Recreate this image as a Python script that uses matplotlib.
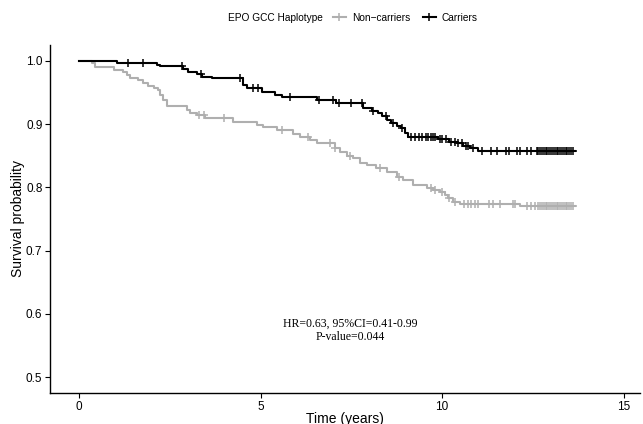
import numpy as np
import matplotlib
matplotlib.use("Agg")
import matplotlib.pyplot as plt
from matplotlib.lines import Line2D
from matplotlib.offsetbox import HPacker

# ---- data ----
carr_t = [0.0, 1.05, 2.15, 2.23, 2.87, 3.0, 3.25, 3.39, 3.65, 4.52, 4.62, 5.03, 5.4, 5.58,
          6.54, 7.09, 7.82, 8.06, 8.23, 8.33, 8.47, 8.6, 8.75, 8.88, 8.97, 9.06, 9.89,
          10.2, 10.4, 10.58, 10.76, 11.0]
carr_s = [1.0, 0.996, 0.994, 0.991, 0.987, 0.983, 0.979, 0.975, 0.972, 0.962, 0.957, 0.950, 0.946, 0.943,
          0.938, 0.933, 0.925, 0.920, 0.918, 0.912, 0.907, 0.901, 0.897, 0.893, 0.886, 0.879, 0.876,
          0.872, 0.870, 0.866, 0.862, 0.858]
carr_end = 13.65
carr_cens = [1.35, 1.76, 2.83, 3.35, 4.43, 4.8, 4.93, 5.8, 6.6, 7.0, 7.15, 7.5, 7.8, 8.1, 8.45,
             8.65, 8.9, 9.15, 9.25, 9.35, 9.45, 9.55, 9.6, 9.7, 9.75, 9.8, 9.95, 10.0, 10.1,
             10.25, 10.35, 10.45, 10.55, 10.65, 10.7, 10.85, 11.1, 11.35, 11.5, 11.75, 11.85,
             12.05, 12.15, 12.35, 12.45, 12.6, 12.65, 12.7, 12.75, 12.8, 12.85, 12.9, 12.95,
             13.0, 13.05, 13.1, 13.15, 13.2, 13.25, 13.3, 13.35, 13.4, 13.45, 13.5, 13.55, 13.6]

non_t = [0.0, 0.35, 0.44, 0.95, 1.22, 1.31, 1.4, 1.63, 1.77, 1.9, 2.05, 2.18, 2.23, 2.32, 2.41,
         2.96, 3.06, 3.24, 3.47, 4.25, 4.89, 5.07, 5.44, 5.9, 6.08, 6.36, 6.54, 7.05, 7.18,
         7.37, 7.55, 7.73, 7.92, 8.19, 8.47, 8.75, 8.93, 9.2, 9.57, 9.75, 9.94, 10.07, 10.17,
         10.3, 10.49, 12.14]
non_s = [1.0, 0.996, 0.990, 0.986, 0.983, 0.978, 0.973, 0.969, 0.965, 0.960, 0.957, 0.954, 0.946, 0.938, 0.928,
         0.922, 0.918, 0.915, 0.910, 0.904, 0.899, 0.895, 0.891, 0.884, 0.879, 0.875, 0.870, 0.862, 0.856,
         0.850, 0.846, 0.839, 0.835, 0.830, 0.825, 0.817, 0.812, 0.804, 0.799, 0.796, 0.793, 0.788, 0.783,
         0.777, 0.774, 0.770]
non_end = 13.65
non_cens = [3.3, 3.45, 4.0, 5.6, 6.3, 6.9, 7.05, 7.45, 8.3, 8.8, 9.7, 9.8, 10.0, 10.2, 10.35,
            10.6, 10.7, 10.8, 10.9, 11.0, 11.3, 11.4, 11.6, 11.95, 12.0, 12.35, 12.45, 12.55,
            12.65, 12.7, 12.75, 12.8, 12.85, 12.9, 12.95, 13.0, 13.05, 13.1, 13.15, 13.2, 13.25,
            13.3, 13.35, 13.4, 13.45, 13.5, 13.55, 13.6]

legend_title = "EPO GCC Haplotype"
group_labels = ["Non\u2212carriers", "Carriers"]
annot = "HR=0.63, 95%CI=0.41-0.99\nP-value=0.044"

# ---- plot ----
plt.rcParams['font.family'] = ['Liberation Sans', 'DejaVu Sans']
fig = plt.figure(figsize=(6.43, 4.24), dpi=100)
ax = fig.add_axes([0.0778, 0.073, 0.917, 0.821])

gray = '#AFAFAF'
black = '#000000'

def step_value(ts, ss, x):
    idx = np.searchsorted(ts, x, side='right') - 1
    return np.asarray(ss)[idx]

for ts, ss, end, cens, col in [(non_t, non_s, non_end, non_cens, gray),
                               (carr_t, carr_s, carr_end, carr_cens, black)]:
    xs = list(ts) + [end]
    ys = list(ss) + [ss[-1]]
    ax.step(xs, ys, where='post', color=col, lw=1.5, zorder=2)
    cy = step_value(ts, ss, np.array(cens))
    ax.plot(cens, cy, linestyle='none', marker='+', markersize=5.5, mew=1.1, color=col, zorder=3)

ax.set_xlim(-0.8, 15.44)
ax.set_ylim(0.475, 1.025)
ax.set_xticks([0, 5, 10, 15])
ax.set_yticks([0.5, 0.6, 0.7, 0.8, 0.9, 1.0])
ax.set_yticklabels(['0.5', '0.6', '0.7', '0.8', '0.9', '1.0'])
for s in ['top', 'right']:
    ax.spines[s].set_visible(False)
for s in ['left', 'bottom']:
    ax.spines[s].set_linewidth(1.0)
ax.tick_params(axis='both', length=3.5, width=0.8, labelsize=8.5, colors='black', pad=2)
ax.set_xlabel('Time (years)', fontsize=10, labelpad=-0.5)
ax.set_ylabel('Survival probability', fontsize=10, labelpad=0.5)

ax.text(7.46, 0.574, annot, ha='center', va='center', fontsize=8.5,
        family=['Liberation Serif', 'DejaVu Serif'], linespacing=1.1)

handles = [Line2D([0], [0], color=gray, lw=1.5, marker='+', markersize=5.5, mew=1.1),
           Line2D([0], [0], color=black, lw=1.5, marker='+', markersize=5.5, mew=1.1)]
leg = fig.legend(handles, group_labels, title=legend_title, loc='center',
                 bbox_to_anchor=(0.549, 0.958), ncol=2, frameon=False, fontsize=7.3,
                 title_fontsize=7.3, handlelength=1.3, handletextpad=0.6, columnspacing=1.2)
title_box = leg._legend_title_box
entries = leg._legend_handle_box
leg._legend_box._children = [HPacker(pad=0, sep=7, children=[title_box, entries], align='center')]

fig.savefig('out.png', dpi=100)
